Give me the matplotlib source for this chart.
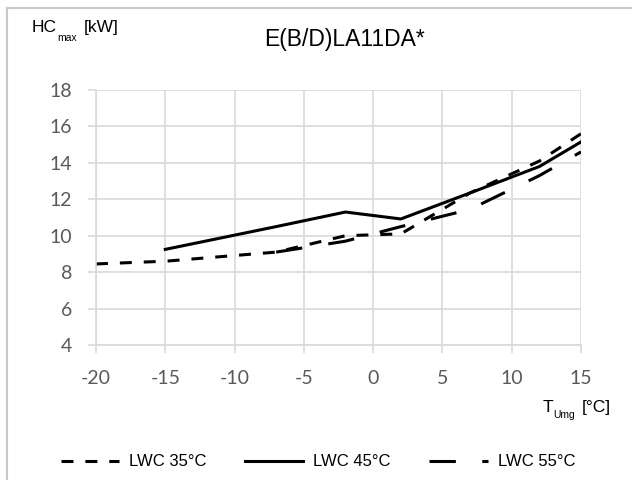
import matplotlib
matplotlib.use("Agg")
import matplotlib.pyplot as plt
from matplotlib.lines import Line2D

# Daten
t_35 = [-20, -15, -7, -2, 2, 7, 12, 15]
hc_35 = [8.45, 8.6, 9.1, 10.0, 10.1, 12.35, 14.1, 15.6]

t_45 = [-15, -7, -2, 2, 7, 12, 15]
hc_45 = [9.25, 10.5, 11.3, 10.92, 12.35, 13.8, 15.15]

t_55 = [-7, -2, 2, 7, 12, 15]
hc_55 = [9.1, 9.7, 10.5, 11.45, 13.3, 14.6]

x_ticks = [-20, -15, -10, -5, 0, 5, 10, 15]
y_ticks = [4, 6, 8, 10, 12, 14, 16, 18]

plt.rcParams['lines.scale_dashes'] = False
plt.rcParams['axes.unicode_minus'] = False

schrift = ['Liberation Sans', 'DejaVu Sans']
grau = '#d9d9d9'
W, H = 632, 480


def px(x, y):
    # Pixelkoordinaten -> Figurkoordinaten
    return x / W, 1 - y / H


fig = plt.figure(figsize=(6.32, 4.8), dpi=100)
ax = fig.add_axes([96 / W, 1 - 345 / H, 485 / W, 255 / H])

kurz = (0, (8.6, 8.6))
lang = (0, (19, 19))
lw = 2.2

ax.plot(t_35, hc_35, color='black', lw=lw, linestyle=kurz, dash_capstyle='butt')
ax.plot(t_45, hc_45, color='black', lw=lw)
ax.plot(t_55, hc_55, color='black', lw=lw, linestyle=lang, dash_capstyle='butt')

ax.set_xlim(-20, 15)
ax.set_ylim(4, 18)
ax.set_xticks(x_ticks)
ax.set_yticks(y_ticks)
ax.grid(True, color=grau, lw=1.2)
ax.set_axisbelow(True)
for s in ['top', 'right']:
    ax.spines[s].set_visible(False)
for s in ['left', 'bottom']:
    ax.spines[s].set_color(grau)
    ax.spines[s].set_linewidth(1.2)
ax.tick_params(axis='both', colors=grau, length=6, width=1.2, direction='out')
ax.tick_params(axis='y', pad=11)
ax.tick_params(axis='x', pad=12)
for lab in ax.get_xticklabels() + ax.get_yticklabels():
    lab.set_color('#595959')
    lab.set_fontsize(14)
    lab.set_fontfamily(['Lato', 'DejaVu Sans'])

# Titel
fig.text(*px(344, 46), 'E(B/D)LA11DA*', ha='center', va='baseline',
         fontsize=16.5, family=schrift)

# Achsenbeschriftung y
fig.text(*px(32, 32), 'HC', ha='left', va='baseline', fontsize=12.5, family=schrift)
fig.text(*px(57, 41), 'max', ha='left', va='baseline', fontsize=7.5, family=schrift)
fig.text(*px(84, 32), '[kW]', ha='left', va='baseline', fontsize=12.5, family=schrift)

# Achsenbeschriftung x
fig.text(*px(543, 412), 'T', ha='left', va='baseline', fontsize=12.5, family=schrift)
fig.text(*px(553, 418), 'Umg', ha='left', va='baseline', fontsize=7.5, family=schrift)
fig.text(*px(611, 412), '[°C]', ha='right', va='baseline', fontsize=12.5, family=schrift)

# Rahmen links und oben
fig.add_artist(Line2D([7 / W, 7 / W], [0, 1 - 8 / H], color='#c8c8c8', lw=1.5))
fig.add_artist(Line2D([7 / W, 1], [1 - 8 / H, 1 - 8 / H], color='#c8c8c8', lw=1.5))

# Legende
handles = [
    Line2D([], [], color='black', lw=lw, linestyle=kurz, dash_capstyle='butt'),
    Line2D([], [], color='black', lw=lw),
    Line2D([], [], color='black', lw=lw, linestyle=lang, dash_capstyle='butt'),
]
labels = ['LWC 35°C', 'LWC 45°C', 'LWC 55°C']
fig.legend(handles, labels, loc='center', bbox_to_anchor=px(318, 462),
           ncol=3, frameon=False, handlelength=3.5, handletextpad=0.6,
           columnspacing=2.3, borderpad=0, prop={'family': schrift, 'size': 12})

fig.savefig('out.png', dpi=100)
